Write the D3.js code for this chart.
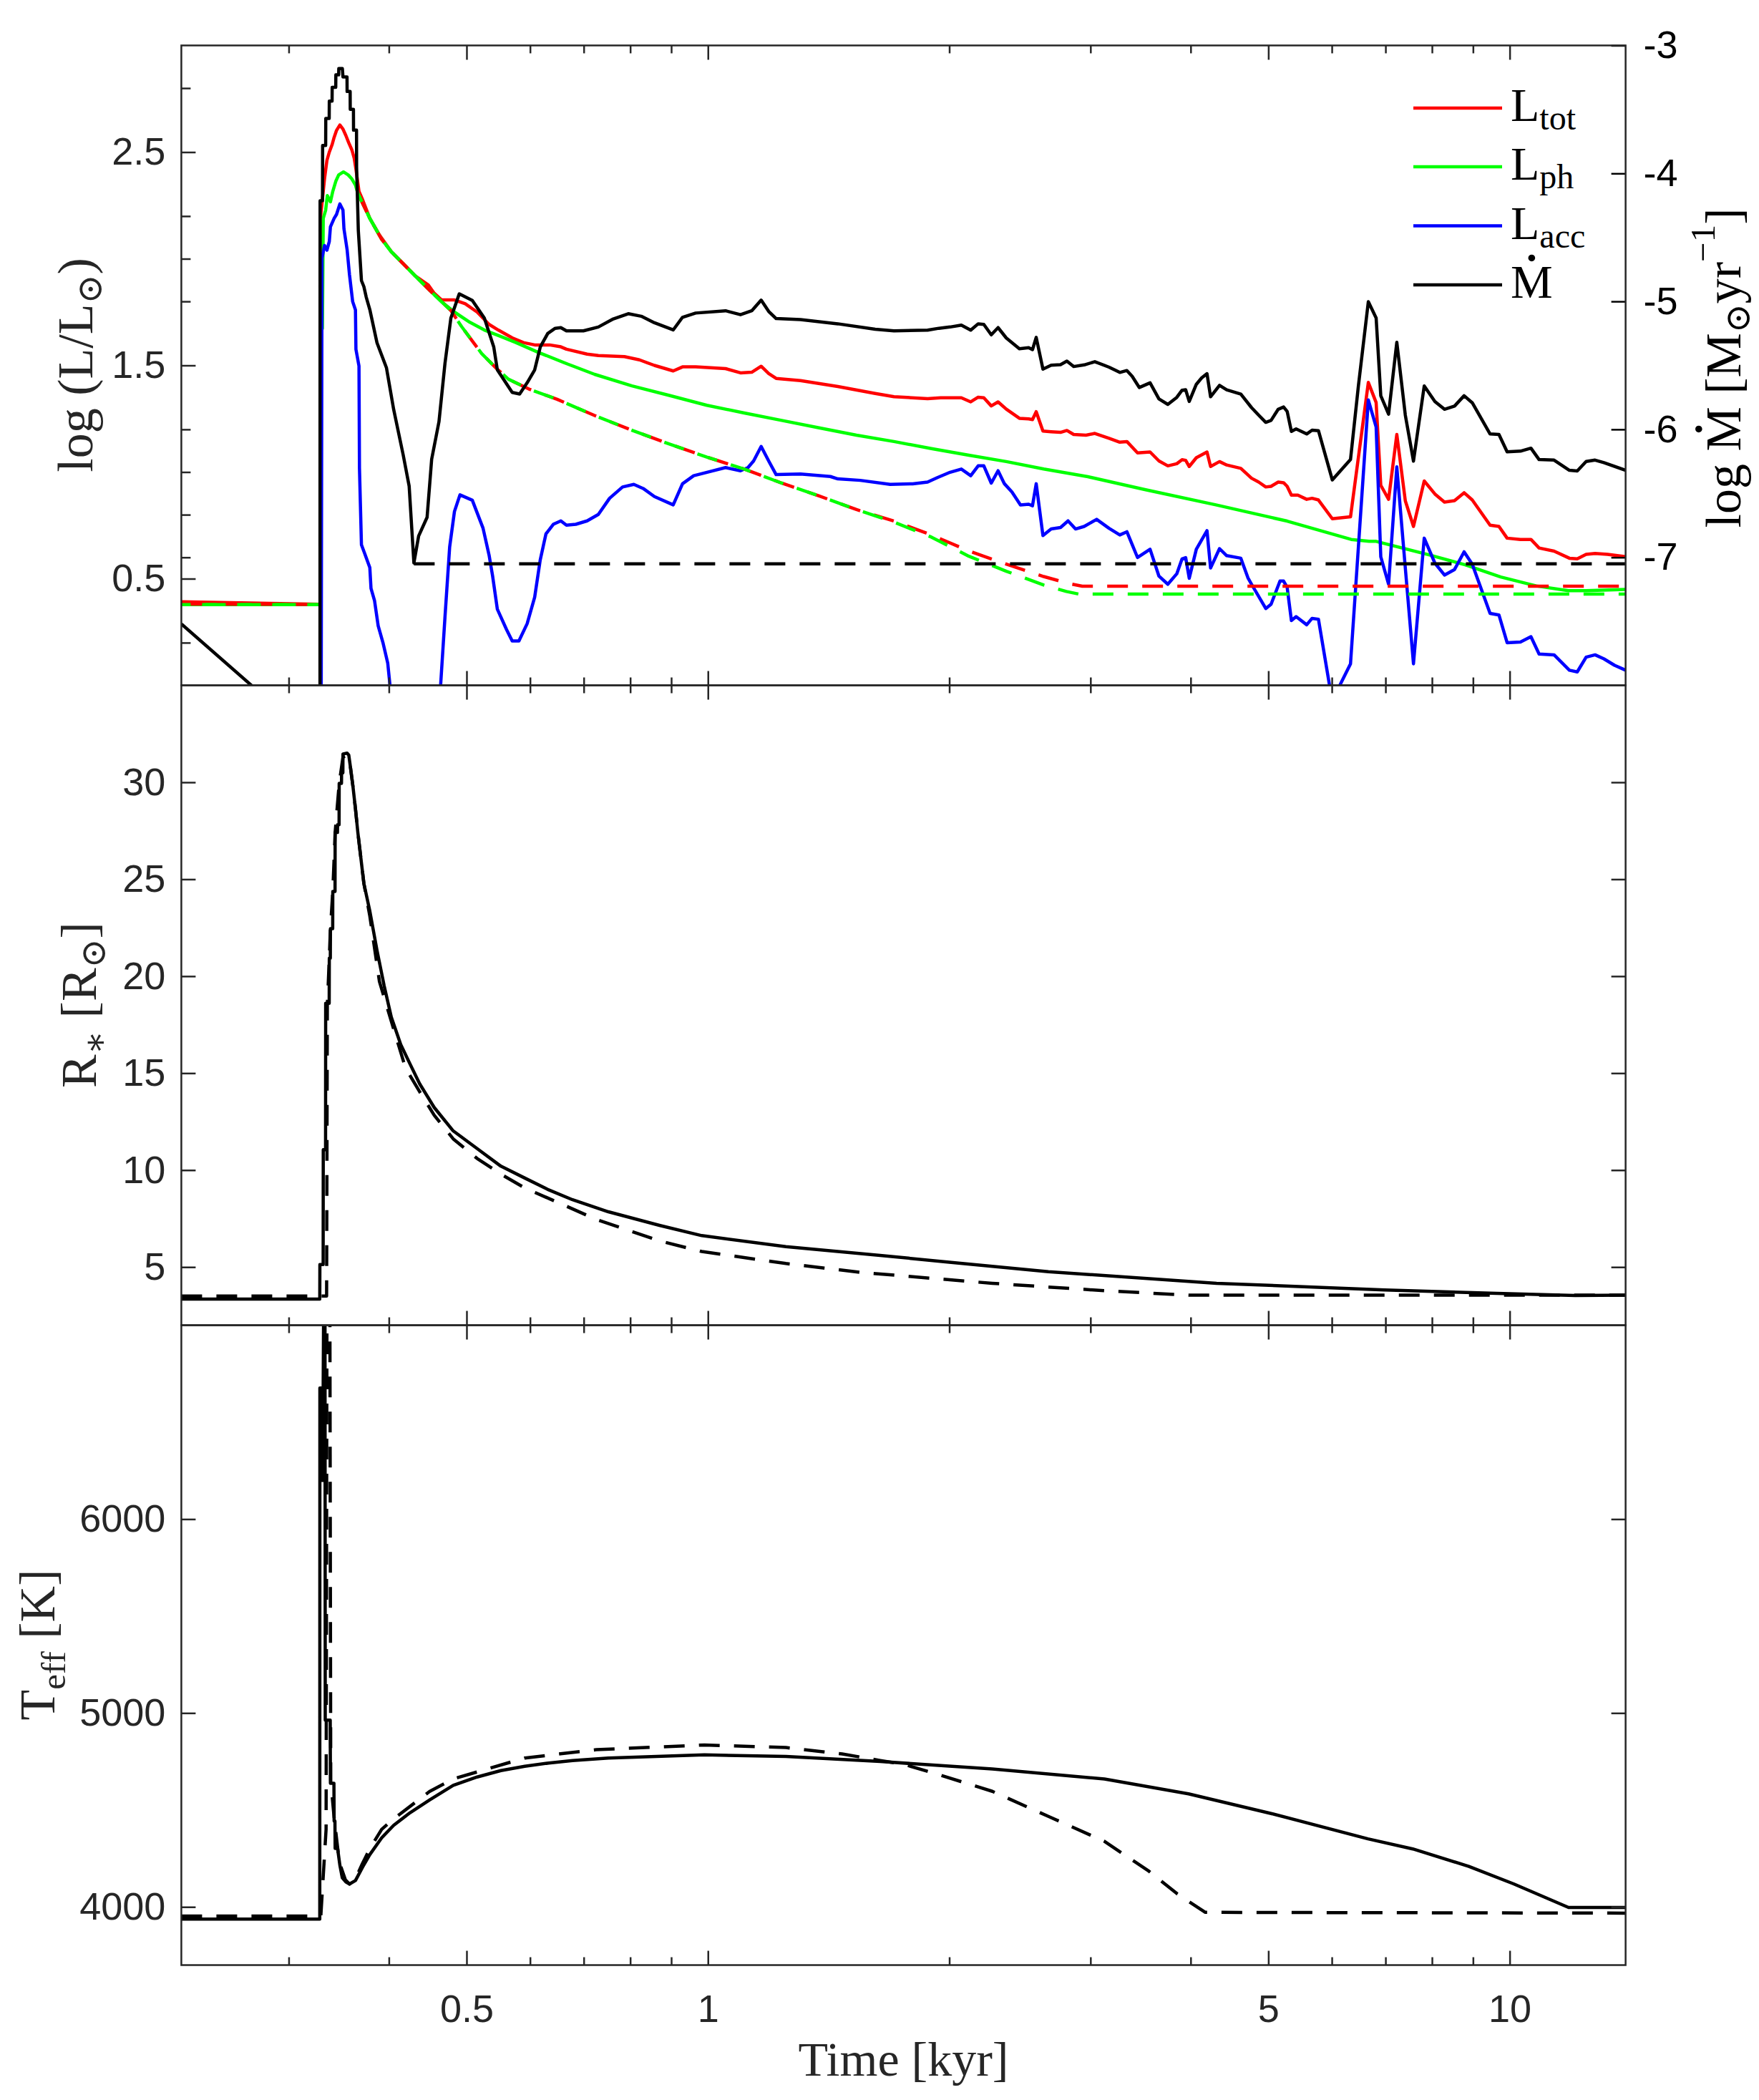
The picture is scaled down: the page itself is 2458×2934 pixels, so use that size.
<!DOCTYPE html>
<html>
<head>
<meta charset="utf-8">
<script src="https://cdn.jsdelivr.net/npm/d3@7"></script>
<style>
  body { margin: 0; background: #fff; }
</style>
</head>
<body>
<svg id="chart" width="2458" height="2934"></svg>
<script>
// ---- data (time in kyr) ----
const timeDomain = [0.2204, 13.95];
const timeMajor = [0.5, 1, 5, 10];
const timeMinor = [0.3, 0.4, 0.6, 0.7, 0.8, 0.9, 2, 3, 4, 6, 7, 8, 9];

const lumDomain = [0, 3];
const lumTicks = [0.2, 0.5, 0.6, 0.8, 1, 1.2, 1.5, 1.8, 2, 2.2, 2.5, 2.8];
const lumLabels = [0.5, 1.5, 2.5];
const mdotDomain = [-8, -3];
const mdotTicks = [-3, -4, -5, -6, -7];
const radDomain = [2, 35];
const radTicks = [5, 10, 15, 20, 25, 30];
const teffDomain = [3700, 7000];
const teffTicks = [4000, 5000, 6000];

// log L_tot, solid
const lumTot = [[0.2204,0.392],[0.3283,0.380],[0.3290,2.208],[0.3325,2.374],[0.3348,2.461],[0.3371,2.500],[0.3399,2.536],[0.3418,2.569],[0.3442,2.602],[0.3475,2.627],[0.3506,2.608],[0.3535,2.578],[0.3565,2.543],[0.3597,2.510],[0.3621,2.471],[0.3638,2.423],[0.3671,2.316],[0.3709,2.277],[0.3787,2.189],[0.3893,2.111],[0.4028,2.033],[0.4168,1.978],[0.4313,1.920],[0.4479,1.877],[0.4556,1.838],[0.4652,1.807],[0.4829,1.807],[0.4981,1.789],[0.5154,1.750],[0.5334,1.692],[0.5481,1.665],[0.5700,1.629],[0.5887,1.607],[0.6080,1.596],[0.6346,1.596],[0.6555,1.587],[0.6661,1.576],[0.7068,1.553],[0.7300,1.546],[0.7868,1.541],[0.8214,1.526],[0.8575,1.500],[0.9051,1.474],[0.9296,1.493],[0.9653,1.493],[1.0519,1.485],[1.0980,1.465],[1.1341,1.468],[1.1652,1.496],[1.1906,1.462],[1.2163,1.439],[1.3045,1.429],[1.4522,1.401],[1.6168,1.368],[1.7063,1.353],[1.8793,1.344],[1.9514,1.348],[2.0705,1.348],[2.1270,1.329],[2.1730,1.351],[2.2085,1.348],[2.2563,1.310],[2.3008,1.329],[2.3558,1.295],[2.4460,1.252],[2.5123,1.249],[2.5398,1.246],[2.5671,1.283],[2.6172,1.192],[2.6797,1.189],[2.7529,1.186],[2.8037,1.195],[2.8584,1.176],[2.9616,1.173],[3.0379,1.181],[3.1645,1.158],[3.2637,1.140],[3.3308,1.143],[3.4343,1.090],[3.5601,1.094],[3.6521,1.052],[3.7464,1.029],[3.8439,1.039],[3.9028,1.058],[3.9432,1.055],[3.9839,1.026],[4.0658,1.067],[4.1924,1.094],[4.2357,1.026],[4.3459,1.049],[4.4362,1.033],[4.6204,1.017],[4.7643,0.971],[4.8632,0.953],[4.9632,0.930],[5.0393,0.933],[5.1439,0.953],[5.2239,0.950],[5.2779,0.933],[5.3422,0.892],[5.4420,0.892],[5.5824,0.872],[5.6692,0.877],[5.7739,0.869],[6.0087,0.781],[6.3308,0.790],[6.6633,1.420],[6.8142,1.326],[6.9058,0.938],[7.0623,0.872],[7.2311,1.176],[7.4101,0.865],[7.5857,0.745],[7.8236,0.958],[8.0668,0.897],[8.2920,0.859],[8.5344,0.866],[8.7728,0.903],[8.9807,0.869],[9.4523,0.751],[9.6960,0.745],[9.9263,0.690],[10.313,0.684],[10.629,0.684],[10.881,0.644],[11.359,0.629],[11.870,0.596],[12.141,0.593],[12.455,0.614],[12.779,0.618],[13.246,0.614],[13.95,0.603]];

// log L_ph, solid
const lumPh = [[0.2204,0.378],[0.3285,0.378],[0.3290,1.673],[0.3305,1.673],[0.3313,2.189],[0.3336,2.228],[0.3352,2.296],[0.3382,2.267],[0.3405,2.316],[0.3435,2.364],[0.3463,2.393],[0.3511,2.407],[0.3559,2.393],[0.3597,2.374],[0.3634,2.345],[0.3659,2.306],[0.3787,2.189],[0.3918,2.091],[0.4028,2.033],[0.4196,1.965],[0.4313,1.920],[0.4495,1.853],[0.4652,1.799],[0.4829,1.750],[0.5048,1.702],[0.5261,1.666],[0.5482,1.640],[0.5762,1.607],[0.6145,1.561],[0.6697,1.505],[0.7222,1.458],[0.8039,1.404],[0.8953,1.359],[0.9969,1.313],[1.1100,1.277],[1.2361,1.242],[1.3761,1.207],[1.5321,1.173],[1.7063,1.143],[1.9000,1.110],[2.1157,1.079],[2.3558,1.049],[2.6231,1.014],[2.9779,0.978],[3.5068,0.918],[4.3013,0.846],[5.2779,0.770],[6.3439,0.684],[6.6770,0.675],[6.8142,0.675],[7.9437,0.611],[8.8000,0.565],[9.7460,0.508],[10.795,0.466],[11.834,0.444],[12.455,0.444],[13.95,0.450]];

// log L_acc, solid (runs below the frame where it leaves the panel)
const lumAcc = [[0.2204,-1],[0.3290,-1],[0.3301,2.003],[0.3325,2.062],[0.3348,2.040],[0.3371,2.081],[0.3382,2.150],[0.3418,2.189],[0.3442,2.208],[0.3475,2.257],[0.3506,2.228],[0.3516,2.140],[0.3548,2.042],[0.3572,1.926],[0.3605,1.799],[0.3634,1.760],[0.3639,1.575],[0.3671,1.497],[0.3676,1.019],[0.3697,0.659],[0.3730,0.620],[0.3787,0.552],[0.3800,0.454],[0.3839,0.396],[0.3879,0.279],[0.3932,0.201],[0.3987,0.104],[0.4043,-0.12],[0.4619,-0.12],[0.4699,0.318],[0.4763,0.649],[0.4829,0.815],[0.4906,0.893],[0.5083,0.868],[0.5242,0.737],[0.5334,0.610],[0.5388,0.513],[0.5462,0.357],[0.5609,0.261],[0.5700,0.208],[0.5811,0.208],[0.5950,0.289],[0.6080,0.413],[0.6178,0.588],[0.6280,0.710],[0.6414,0.755],[0.6555,0.771],[0.6661,0.751],[0.6843,0.755],[0.7068,0.771],[0.7300,0.801],[0.7540,0.877],[0.7826,0.930],[0.8083,0.942],[0.8302,0.923],[0.8575,0.885],[0.9051,0.846],[0.9296,0.945],[0.9599,0.983],[1.0076,1.003],[1.0519,1.021],[1.0980,1.006],[1.1219,1.021],[1.1402,1.052],[1.1652,1.120],[1.1906,1.052],[1.2163,0.988],[1.3045,0.991],[1.4214,0.979],[1.4522,0.968],[1.5490,0.961],[1.6878,0.942],[1.8007,0.945],[1.8793,0.953],[1.9307,0.973],[2.0047,0.999],[2.0705,1.014],[2.1270,0.983],[2.1730,1.029],[2.2085,1.029],[2.2563,0.948],[2.3008,1.006],[2.3432,0.945],[2.3939,0.907],[2.4536,0.846],[2.5123,0.849],[2.5398,0.842],[2.5671,0.945],[2.6172,0.702],[2.6797,0.733],[2.7529,0.740],[2.8130,0.771],[2.8738,0.733],[2.9463,0.745],[3.0536,0.778],[3.1645,0.736],[3.2637,0.705],[3.3308,0.720],[3.4343,0.599],[3.5601,0.638],[3.6521,0.512],[3.7464,0.474],[3.8439,0.523],[3.9028,0.593],[3.9432,0.599],[3.9839,0.502],[4.0658,0.638],[4.1924,0.725],[4.2357,0.550],[4.3459,0.641],[4.4362,0.608],[4.6204,0.596],[4.7156,0.504],[4.7643,0.474],[4.9632,0.360],[5.0393,0.380],[5.1704,0.489],[5.2239,0.489],[5.2779,0.459],[5.3422,0.304],[5.4151,0.322],[5.5824,0.284],[5.6692,0.314],[5.7739,0.310],[5.9668,-0.01],[6.0385,-0.15],[6.1207,-0.01],[6.3308,0.101],[6.6633,1.338],[6.8142,1.211],[6.9058,0.603],[7.0623,0.474],[7.2311,1.024],[7.4101,0.550],[7.5857,0.101],[7.8236,0.690],[8.0668,0.573],[8.2920,0.517],[8.5344,0.543],[8.7728,0.626],[8.9807,0.568],[9.4523,0.337],[9.6960,0.330],[9.9263,0.200],[10.313,0.203],[10.629,0.228],[10.881,0.147],[11.359,0.143],[11.870,0.071],[12.141,0.063],[12.455,0.132],[12.779,0.143],[13.108,0.124],[13.513,0.094],[13.95,0.071]];

// comparison model (dashed), null = gap
const lumTotCmp = [[0.2204,0.381],[0.3283,0.379],[0.3283,null],[0.3659,2.306],[0.3787,2.189],[0.3918,2.091],[0.4028,2.033],[0.4196,1.965],[0.4313,1.920],[0.4495,1.853],[0.4652,1.799],[0.4780,1.757],[0.4929,1.682],[0.5223,1.555],[0.5444,1.487],[0.5640,1.435],[0.5981,1.389],[0.6485,1.341],[0.7222,1.265],[0.8039,1.196],[0.8953,1.131],[0.9969,1.070],[1.1100,1.014],[1.2361,0.948],[1.3761,0.888],[1.5321,0.824],[1.7063,0.770],[1.9000,0.705],[2.1157,0.630],[2.3558,0.568],[2.6231,0.510],[2.8285,0.476],[2.9300,0.465],[13.95,0.465]];
const lumPhCmp = [[0.2204,0.378],[0.3283,0.378],[0.3283,null],[0.3659,2.306],[0.3787,2.189],[0.3918,2.091],[0.4028,2.033],[0.4196,1.965],[0.4313,1.920],[0.4495,1.853],[0.4652,1.799],[0.4780,1.757],[0.4929,1.682],[0.5223,1.555],[0.5444,1.487],[0.5640,1.435],[0.5981,1.389],[0.6485,1.341],[0.7222,1.265],[0.8039,1.196],[0.8953,1.131],[0.9969,1.070],[1.1100,1.014],[1.2361,0.948],[1.3761,0.888],[1.5321,0.824],[1.7063,0.765],[1.9000,0.695],[2.1157,0.605],[2.3558,0.535],[2.6231,0.470],[2.8000,0.440],[2.9000,0.428],[13.95,0.428]];

// log Mdot (right axis)
const mdot = [[0.2204,-7.52],[0.3282,-8.47],[0.3283,-4.214],[0.3306,-4.214],[0.3307,-3.782],[0.3336,-3.782],[0.3337,-3.570],[0.3370,-3.570],[0.3371,-3.435],[0.3398,-3.435],[0.3399,-3.327],[0.3434,-3.327],[0.3435,-3.230],[0.3463,-3.230],[0.3464,-3.181],[0.3500,-3.181],[0.3506,-3.246],[0.3547,-3.246],[0.3548,-3.360],[0.3579,-3.360],[0.3580,-3.499],[0.3613,-3.499],[0.3614,-3.662],[0.3645,-3.662],[0.3646,-3.954],[0.3664,-4.447],[0.3697,-4.837],[0.3723,-4.885],[0.3748,-4.966],[0.3787,-5.064],[0.3866,-5.324],[0.3972,-5.518],[0.4055,-5.843],[0.4168,-6.200],[0.4240,-6.444],[0.4298,-7.044],[0.4357,-6.833],[0.4464,-6.687],[0.4523,-6.233],[0.4619,-5.940],[0.4699,-5.486],[0.4780,-5.129],[0.4896,-4.941],[0.5083,-4.993],[0.5261,-5.129],[0.5406,-5.356],[0.5462,-5.535],[0.5700,-5.711],[0.5823,-5.724],[0.5950,-5.636],[0.6080,-5.535],[0.6178,-5.357],[0.6313,-5.250],[0.6449,-5.210],[0.6555,-5.205],[0.6661,-5.230],[0.6993,-5.230],[0.7300,-5.200],[0.7621,-5.137],[0.7955,-5.096],[0.8258,-5.116],[0.8575,-5.167],[0.9051,-5.223],[0.9296,-5.124],[0.9653,-5.091],[1.0519,-5.073],[1.0980,-5.104],[1.1341,-5.073],[1.1652,-4.990],[1.1906,-5.078],[1.2163,-5.134],[1.3045,-5.142],[1.4522,-5.175],[1.6168,-5.218],[1.7063,-5.230],[1.8793,-5.225],[1.9410,-5.210],[2.0047,-5.200],[2.0705,-5.185],[2.1270,-5.225],[2.1730,-5.175],[2.2085,-5.180],[2.2563,-5.261],[2.3008,-5.205],[2.3558,-5.286],[2.4460,-5.370],[2.5123,-5.362],[2.5398,-5.377],[2.5671,-5.281],[2.6172,-5.529],[2.6797,-5.499],[2.7529,-5.494],[2.8037,-5.466],[2.8584,-5.509],[2.9469,-5.496],[3.0379,-5.471],[3.1645,-5.514],[3.2637,-5.555],[3.3308,-5.540],[3.3817,-5.585],[3.4520,-5.673],[3.5601,-5.636],[3.6521,-5.762],[3.7464,-5.805],[3.8439,-5.750],[3.9028,-5.694],[3.9432,-5.690],[3.9839,-5.782],[4.0658,-5.648],[4.1282,-5.598],[4.1924,-5.565],[4.2357,-5.745],[4.3459,-5.656],[4.4362,-5.691],[4.6204,-5.724],[4.7643,-5.830],[4.8632,-5.889],[4.9632,-5.945],[5.0393,-5.930],[5.1439,-5.843],[5.2239,-5.825],[5.2779,-5.860],[5.3422,-6.016],[5.4151,-5.996],[5.5824,-6.036],[5.6692,-6.006],[5.7739,-6.010],[6.0087,-6.395],[6.1842,-6.307],[6.3308,-6.236],[6.4757,-5.661],[6.6633,-5.002],[6.8142,-5.129],[6.9058,-5.737],[7.0623,-5.881],[7.2311,-5.319],[7.4101,-5.889],[7.5857,-6.248],[7.8236,-5.661],[8.0668,-5.782],[8.2920,-5.843],[8.5344,-5.818],[8.7728,-5.737],[8.9807,-5.792],[9.4523,-6.036],[9.6960,-6.040],[9.9263,-6.175],[10.313,-6.170],[10.629,-6.147],[10.881,-6.236],[11.359,-6.240],[11.870,-6.320],[12.141,-6.325],[12.455,-6.251],[12.779,-6.240],[13.108,-6.260],[13.95,-6.320]];
const mdotCmp = [[0.4298,-7.05],[13.95,-7.05]];

// stellar radius [R_sun]
const radius = [[0.2204,3.35],[0.3280,3.35],[0.3281,5.13],[0.3312,5.13],[0.3313,11.05],[0.3335,11.05],[0.3336,18.6],[0.3370,18.6],[0.3371,20.93],[0.3381,20.93],[0.3382,22.45],[0.3404,22.45],[0.3405,24.37],[0.3427,24.37],[0.3428,27.41],[0.3451,27.41],[0.3452,27.81],[0.3467,27.81],[0.3468,29.94],[0.3491,29.94],[0.3492,30.49],[0.3505,30.49],[0.3506,31.46],[0.3548,31.5],[0.3565,31.4],[0.3580,30.85],[0.3609,29.74],[0.3634,28.63],[0.3659,27.41],[0.3723,24.78],[0.3787,23.36],[0.3866,21.33],[0.3946,19.51],[0.4028,17.89],[0.4139,16.47],[0.4252,15.46],[0.4370,14.45],[0.4556,13.23],[0.4812,12.02],[0.5154,11.11],[0.5518,10.20],[0.5909,9.59],[0.6330,8.98],[0.6779,8.47],[0.7513,7.85],[0.8700,7.15],[0.9825,6.62],[1.2510,6.05],[1.6400,5.60],[2.0000,5.25],[2.6586,4.76],[4.3092,4.16],[6.9832,3.82],[9.6366,3.64],[12.072,3.53],[13.95,3.55]];
const radiusCmp = [[0.2204,3.5],[0.3345,3.5],[0.3352,18.5],[0.3371,20.93],[0.3382,22.45],[0.3405,24.37],[0.3428,27.41],[0.3468,29.94],[0.3506,31.3],[0.3548,31.4],[0.3580,30.85],[0.3609,29.74],[0.3634,28.63],[0.3659,27.41],[0.3723,24.78],[0.3787,23.1],[0.3893,19.72],[0.4055,17.28],[0.4196,15.26],[0.4370,14.04],[0.4556,12.83],[0.4812,11.61],[0.5154,10.60],[0.5518,9.79],[0.5909,9.08],[0.6549,8.27],[0.7259,7.45],[0.8700,6.35],[0.9825,5.80],[1.2510,5.18],[1.5554,4.72],[2.2633,4.16],[3.1230,3.78],[3.9756,3.55],[13.95,3.55]];

// effective temperature [K]
const teff = [[0.2204,3937],[0.3280,3937],[0.3281,6676],[0.3306,6676],[0.3307,6199],[0.3322,7600],[0.3329,7600],[0.3332,4963],[0.3380,4963],[0.3382,4638],[0.3416,4638],[0.3418,4443],[0.3426,4443],[0.3428,4302],[0.3452,4302],[0.3475,4215],[0.3499,4150],[0.3535,4129],[0.3572,4118],[0.3634,4136],[0.3709,4205],[0.3787,4270],[0.3918,4356],[0.4055,4421],[0.4252,4486],[0.4495,4551],[0.4812,4627],[0.5154,4670],[0.5518,4703],[0.5909,4725],[0.6330,4742],[0.6779,4755],[0.7513,4768],[0.9900,4784],[1.2510,4776],[1.6400,4750],[2.2633,4711],[3.1230,4660],[3.9756,4583],[5.0621,4480],[6.6553,4351],[7.5701,4299],[8.8924,4209],[10.112,4119],[11.841,3997],[13.95,3997]];
const teffCmp = [[0.2204,3953],[0.3290,3953],[0.3340,4400],[0.3350,7600],[0.3375,7600],[0.3385,4650],[0.3420,4450],[0.3470,4230],[0.3530,4140],[0.3572,4118],[0.3634,4145],[0.3709,4225],[0.3787,4300],[0.3918,4400],[0.4055,4454],[0.4495,4595],[0.4812,4660],[0.5909,4768],[0.7259,4811],[0.9900,4835],[1.2510,4822],[1.4704,4789],[1.6400,4755],[1.7496,4737],[1.9268,4686],[2.2633,4596],[2.6586,4467],[3.1230,4338],[3.5521,4183],[3.8502,4067],[4.1727,3972],[13.95,3968]];

// ---- layout ----
const svg = d3.select('#chart');
const X0 = 253.4, X1 = 2271.6;
const tops = [63.5, 957.5, 1851.5], PH = 894;
const INK = '#262626';
const SANS = '"Liberation Sans", Arial, Helvetica, sans-serif';
const SERIF = '"Liberation Serif", "DejaVu Serif", serif';
const LW = 4.5, DASH = '29 20';

const x = d3.scaleLog().domain(timeDomain).range([X0, X1]);
const yL = d3.scaleLinear().domain(lumDomain).range([tops[0] + PH, tops[0]]);
const yM = d3.scaleLinear().domain(mdotDomain).range([tops[0] + PH, tops[0]]);
const yR = d3.scaleLinear().domain(radDomain).range([tops[1] + PH, tops[1]]);
const yT = d3.scaleLinear().domain(teffDomain).range([tops[2] + PH, tops[2]]);

const defs = svg.append('defs');
tops.forEach((t, i) => {
  defs.append('clipPath').attr('id', 'clip' + i)
    .append('rect').attr('x', X0).attr('y', t).attr('width', X1 - X0).attr('height', PH);
});

function drawLine(data, y, clip, color, dashed, offset) {
  const line = d3.line().defined(d => d[1] !== null).x(d => x(d[0])).y(d => y(d[1]));
  const p = svg.append('path').datum(data)
    .attr('clip-path', 'url(#clip' + clip + ')')
    .attr('fill', 'none').attr('stroke', color).attr('stroke-width', LW)
    .attr('stroke-linejoin', 'round').attr('d', line);
  if (dashed) p.attr('stroke-dasharray', DASH).attr('stroke-dashoffset', offset || 0);
}

// panel 1
drawLine(lumTot, yL, 0, '#ff0000');
drawLine(lumPh, yL, 0, '#00ff00');
drawLine(lumAcc, yL, 0, '#0000ff');
drawLine(lumTotCmp, yL, 0, '#ff0000', true, 0);
drawLine(lumPhCmp, yL, 0, '#00ff00', true, 16);
drawLine(mdot, yM, 0, '#000000');
drawLine(mdotCmp, yM, 0, '#000000', true);
// panel 2
drawLine(radiusCmp, yR, 1, '#000000', true);
drawLine(radius, yR, 1, '#000000');
// panel 3
drawLine(teffCmp, yT, 2, '#000000', true);
drawLine(teff, yT, 2, '#000000');

// ---- axes ----
function addAxis(axis, tx, ty, color) {
  const g = svg.append('g').attr('transform', `translate(${tx},${ty})`).call(axis);
  g.attr('font-family', SANS).attr('font-size', 54).attr('color', color || INK);
  g.select('.domain').remove();
  g.selectAll('.tick line').attr('stroke-width', 2.5);
  return g;
}
const noLabel = () => '';

tops.forEach((t, i) => {
  const b = t + PH;
  addAxis(d3.axisTop(x).tickValues(timeMajor).tickSize(-20).tickFormat(noLabel), 0, t);
  addAxis(d3.axisTop(x).tickValues(timeMinor).tickSize(-11).tickFormat(noLabel), 0, t);
  addAxis(d3.axisBottom(x).tickValues(timeMinor).tickSize(-11).tickFormat(noLabel), 0, b);
  addAxis(d3.axisBottom(x).tickValues(timeMajor).tickSize(-20).tickPadding(41)
    .tickFormat(i === 2 ? d3.format('') : noLabel), 0, b);
});

// panel 1 y axes
addAxis(d3.axisLeft(yL).tickValues(lumTicks.filter(v => !lumLabels.includes(v))).tickSize(-13).tickFormat(noLabel), X0, 0);
addAxis(d3.axisLeft(yL).tickValues(lumLabels).tickSize(-20).tickPadding(22).tickFormat(d3.format('.1f')), X0, 0);
addAxis(d3.axisRight(yM).tickValues(mdotTicks).tickSize(-20).tickPadding(25).tickFormat(d => '-' + Math.abs(d)), X1, 0, '#000');
// panel 2 y axes
addAxis(d3.axisLeft(yR).tickValues(radTicks).tickSize(-20).tickPadding(22).tickFormat(d3.format('d')), X0, 0);
addAxis(d3.axisRight(yR).tickValues(radTicks).tickSize(-20).tickFormat(noLabel), X1, 0);
// panel 3 y axes
addAxis(d3.axisLeft(yT).tickValues(teffTicks).tickSize(-20).tickPadding(22).tickFormat(d3.format('d')), X0, 0);
addAxis(d3.axisRight(yT).tickValues(teffTicks).tickSize(-20).tickFormat(noLabel), X1, 0);

// frames
tops.forEach(t => {
  svg.append('rect').attr('x', X0).attr('y', t).attr('width', X1 - X0).attr('height', PH)
    .attr('fill', 'none').attr('stroke', INK).attr('stroke-width', 2.5);
});

// ---- labels ----
const LFS = 70;
function rotLabel(cx, cy, parts, color) {
  const g = svg.append('g').attr('transform', `translate(${cx},${cy}) rotate(-90)`);
  const t = g.append('text').attr('text-anchor', 'middle').attr('font-family', SERIF)
    .attr('font-size', LFS).attr('fill', color || INK);
  parts.forEach(p => {
    const s = t.append('tspan').text(p.s);
    if (p.sub) s.attr('font-size', LFS * 0.7).attr('dy', p.dy);
    else if (p.dy) s.attr('dy', p.dy);
  });
  return { g, t };
}
rotLabel(129, 510, [{s: 'log (L/L'}, {s: '\u2299', sub: true, dy: 13}, {s: ')', dy: -13}]);
rotLabel(134, 1404, [{s: 'R'}, {s: '\u2217', sub: true, dy: 15}, {s: ' [R', dy: -15}, {s: '\u2299', sub: true, dy: 13}, {s: ']', dy: -13}]);
rotLabel(76, 2298, [{s: 'T'}, {s: 'eff', sub: true, dy: 15}, {s: ' [K]', dy: -15}]);

const right = rotLabel(2432, 514, [{s: 'log M [M'}, {s: '\u2299', sub: true, dy: 13}, {s: 'yr', dy: -13}, {s: '\u22121', sub: true, dy: -36}, {s: ']', dy: 36}], '#000');
{
  const ext = right.t.node().getExtentOfChar(4);
  right.g.append('circle').attr('cx', ext.x + ext.width / 2).attr('cy', -LFS * 0.66 - 12)
    .attr('r', 4.8).attr('fill', '#000');
}

svg.append('text').attr('x', (X0 + X1) / 2).attr('y', 2900).attr('text-anchor', 'middle')
  .attr('font-family', SERIF).attr('font-size', 68).attr('fill', INK).text('Time [kyr]');

// ---- legend ----
const legend = [
  {color: '#ff0000', name: 'L', sub: 'tot'},
  {color: '#00ff00', name: 'L', sub: 'ph'},
  {color: '#0000ff', name: 'L', sub: 'acc'},
  {color: '#000000', name: 'M', sub: '', dot: true}
];
const legY = [151, 233, 315.6, 398];
legend.forEach((d, i) => {
  const y = legY[i];
  svg.append('line').attr('x1', 1975).attr('x2', 2099).attr('y1', y).attr('y2', y)
    .attr('stroke', d.color).attr('stroke-width', LW);
  const t = svg.append('text').attr('x', 2111).attr('y', y + 18)
    .attr('font-family', SERIF).attr('font-size', 66).attr('fill', '#000');
  t.append('tspan').text(d.name);
  if (d.sub) t.append('tspan').attr('font-size', 48).attr('dy', 12).text(d.sub);
  if (d.dot) {
    const w = t.node().getComputedTextLength();
    svg.append('circle').attr('cx', 2111 + w / 2).attr('cy', y + 18 - 66 * 0.66 - 12)
      .attr('r', 4.8).attr('fill', '#000');
  }
});
</script>
</body>
</html>
